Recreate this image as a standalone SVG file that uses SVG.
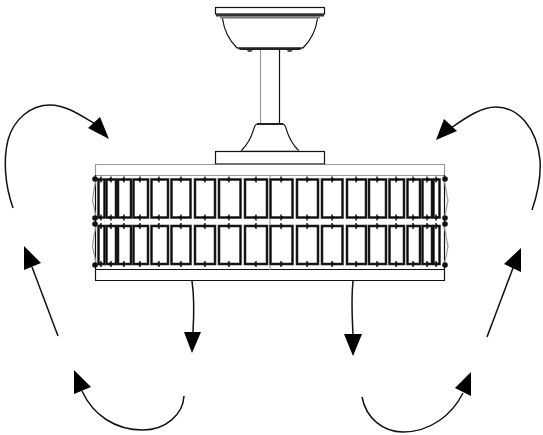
<svg xmlns="http://www.w3.org/2000/svg" width="543" height="435" viewBox="0 0 543 435">
<style>
.t{fill:none;stroke:#111;stroke-width:1.2}
.g{fill:none;stroke:#999;stroke-width:1.2}
.a{fill:none;stroke:#111;stroke-width:1.5}
.h{fill:#000;stroke:none}
</style>
<defs>
<g id="cells" fill="none">
<rect x="98.500" y="179.500" width="6" height="38"/>
<rect x="106.500" y="179.500" width="9.500" height="38"/>
<rect x="118" y="179.500" width="13" height="38"/>
<rect x="133.500" y="179.500" width="14.500" height="38"/>
<rect x="151.500" y="179.500" width="16.500" height="38"/>
<rect x="171.500" y="179.500" width="19" height="38"/>
<rect x="195" y="179.500" width="20" height="38"/>
<rect x="219" y="179.500" width="21.500" height="38"/>
<rect x="245" y="179.500" width="22" height="38"/>
<rect x="270.500" y="179.500" width="22" height="38"/>
<rect x="297" y="179.500" width="21" height="38"/>
<rect x="322" y="179.500" width="20.500" height="38"/>
<rect x="347" y="179.500" width="19" height="38"/>
<rect x="369" y="179.500" width="17" height="38"/>
<rect x="389.500" y="179.500" width="14.500" height="38"/>
<rect x="407.500" y="179.500" width="12.500" height="38"/>
<rect x="422.500" y="179.500" width="9.500" height="38"/>
<rect x="433.500" y="179.500" width="6" height="38"/>
<rect x="98.500" y="226" width="6" height="38"/>
<rect x="106.500" y="226" width="9.500" height="38"/>
<rect x="118" y="226" width="13" height="38"/>
<rect x="133.500" y="226" width="14.500" height="38"/>
<rect x="151.500" y="226" width="16.500" height="38"/>
<rect x="171.500" y="226" width="19" height="38"/>
<rect x="195" y="226" width="20" height="38"/>
<rect x="219" y="226" width="21.500" height="38"/>
<rect x="245" y="226" width="22" height="38"/>
<rect x="270.500" y="226" width="22" height="38"/>
<rect x="297" y="226" width="21" height="38"/>
<rect x="322" y="226" width="20.500" height="38"/>
<rect x="347" y="226" width="19" height="38"/>
<rect x="369" y="226" width="17" height="38"/>
<rect x="389.500" y="226" width="14.500" height="38"/>
<rect x="407.500" y="226" width="12.500" height="38"/>
<rect x="422.500" y="226" width="9.500" height="38"/>
<rect x="433.500" y="226" width="6" height="38"/>
</g>
<marker id="tl" markerUnits="userSpaceOnUse" markerWidth="8" markerHeight="8" refX="4" refY="4" overflow="visible">
<path d="M4 1V7M4 2.500L1.800 4L4 5.500" fill="none" stroke="#111" stroke-width="1.400"/>
</marker>
<marker id="tr" markerUnits="userSpaceOnUse" markerWidth="8" markerHeight="8" refX="4" refY="4" overflow="visible">
<path d="M4 1V7M4 2.500L6.200 4L4 5.500" fill="none" stroke="#111" stroke-width="1.400"/>
</marker>
</defs>
<rect width="543" height="435" fill="#fff"/>
<g id="canopy">
<rect x="215.500" y="7.500" width="109" height="6.500" fill="#fff" stroke="#111" stroke-width="1.200"/>
<rect x="216" y="14" width="108" height="2.500" fill="#333"/>
<rect x="220" y="16.500" width="100" height="2" fill="#777"/>
<path class="t" d="M222.500 18.500C224 30 230 41 237 48H303C310 41 316 30 317.500 18.500"/>
<path d="M237 47.500H303L300 50H240Z" fill="#222"/>
<path d="M247 50h6l-2 2h-3ZM287 50h6l-2 2h-3Z" fill="#555"/>
</g>
<g id="stem">
<path class="g" d="M260.500 50V123"/>
<path class="t" d="M279.500 50V123"/>
<rect x="257" y="123" width="26" height="2" fill="#222"/>
<path class="t" d="M257 124C252 125 256 136 241 151M283 124C288 125 284 136 299 151"/>
<path class="g" d="M241 151H299"/>
<rect x="215.500" y="151.500" width="109" height="12.500" fill="#fff" stroke="#111" stroke-width="1.200"/>
</g>
<g id="housing">
<path class="g" d="M95.500 175.500V164.500H215M325 164.500H444.500V175.500H95.500"/>
<path class="t" d="M95.500 175V280.500H444.500V175M95.500 269.500H444.500"/>
<path class="g" d="M270 175V270"/>
</g>
<g id="crystals">
<use href="#cells" stroke="#8a8a8a" stroke-width="3"/>
<use href="#cells" stroke="#0a0a0a" stroke-width="1.800"/>
<path fill="none" marker-start="url(#tl)" marker-mid="url(#tl)" marker-end="url(#tl)" d="M101 179.500M111 179.500M124 179.500M140 179.500M159 179.500M181 179.500M205 179.500M229 179.500M256 179.500
M101 217.500M111 217.500M124 217.500M140 217.500M159 217.500M181 217.500M205 217.500M229 217.500M256 217.500
M101 226M111 226M124 226M140 226M159 226M181 226M205 226M229 226M256 226
M101 264M111 264M124 264M140 264M159 264M181 264M205 264M229 264M256 264"/>
<path fill="none" marker-start="url(#tr)" marker-mid="url(#tr)" marker-end="url(#tr)" d="M281 179.500M307 179.500M332 179.500M356 179.500M377 179.500M396 179.500M413 179.500M427 179.500M436 179.500
M281 217.500M307 217.500M332 217.500M356 217.500M377 217.500M396 217.500M413 217.500M427 217.500M436 217.500
M281 226M307 226M332 226M356 226M377 226M396 226M413 226M427 226M436 226
M281 264M307 264M332 264M356 264M377 264M396 264M413 264M427 264M436 264"/>
<path class="g" d="M96 180C93 192 93 198 92.500 200C93 204 95 210 96 218M96 226C93 238 93 244 92.500 246C93 250 95 256 96 264M444 180C447 192 447 198 448 200C447 204 447 210 444 218M444 226C447 238 447 244 448 246C447 250 447 256 444 264"/>
<g fill="#111">
<circle cx="95" cy="179" r="2.800"/><circle cx="95" cy="218" r="2.800"/><circle cx="95" cy="224" r="2.800"/><circle cx="95" cy="265" r="2.800"/>
<circle cx="445" cy="179" r="2.800"/><circle cx="445" cy="218" r="2.800"/><circle cx="445" cy="224" r="2.800"/><circle cx="445" cy="265" r="2.800"/>
</g>
</g>
<g id="connectors">
<path class="a" d="M13 208C5 185 3 160 8 140C14 118 32 105 50 105C66 105 80 115 97 125"/>
<polygon class="h" points="100,117 88,128 109,139"/>
<path class="a" d="M532 210C539 190 541 175 540 160C537 128 518 107 496 107C482 107 468 116 451 128"/>
<polygon class="h" points="444,119 457,131 436,140"/>
<path class="a" d="M58 336L32 267"/>
<polygon class="h" points="24,246 41,263 24,270"/>
<path class="a" d="M487 337L513 268"/>
<polygon class="h" points="521,248 504,264 521,272"/>
<path class="a" d="M192 281C194 295 194 315 193 332"/>
<polygon class="h" points="184,332 201,332 192,353"/>
<path class="a" d="M353 281C351 300 352 315 353 334"/>
<polygon class="h" points="344,334 362,334 353,356"/>
<path class="a" d="M184 396C183 415 165 430 143 430C115 430 93 415 82 391"/>
<polygon class="h" points="74,370 91,387 74,394"/>
<path class="a" d="M362 397C366 418 383 432 403 432C430 432 452 415 463 393"/>
<polygon class="h" points="471,372 455,388 471,396"/>
</g>
</svg>
